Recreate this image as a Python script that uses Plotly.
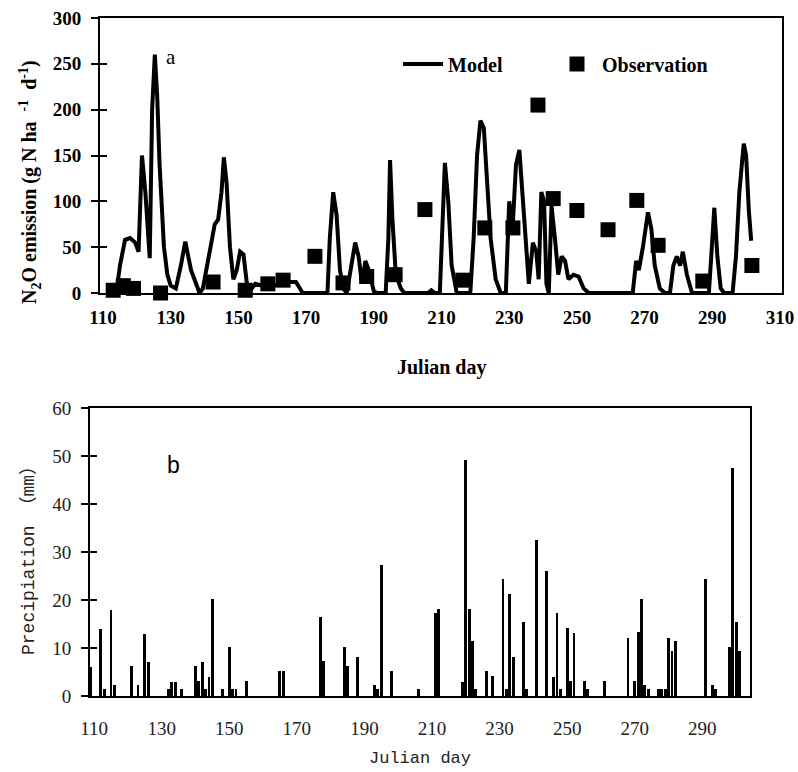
import plotly.graph_objects as go

# ---------------- data ----------------
# Panel a: modelled N2O emission (Julian day, g N ha-1 d-1)
model_day = [113, 114, 115, 116.5, 118, 119.5, 120.5, 121.5, 122.5, 123.8, 124.5, 125.3, 126, 126.7,
             128, 129, 130, 131.5, 133, 134.3, 136, 138.5, 139.5, 140.5, 142, 143, 144, 145, 145.7,
             146.5, 147.5, 148.5, 149.5, 150.5, 151.5, 152.5, 153.5, 155, 157, 160, 163, 165, 167,
             169, 176.3, 177, 178, 179, 180, 181, 182, 183.5, 184.5, 185.5, 186.5, 187.5, 188.5,
             190, 191, 193.5, 194.3, 194.8, 195.5, 196.5, 198, 199, 206, 207, 208, 209.5, 210.3,
             211, 212, 213, 214.5, 218.5, 219.5, 220.5, 221.5, 222.5, 223.5, 224.5, 226, 227.5,
             229, 229.5, 230, 231, 232, 233, 234, 235, 235.8, 237, 238, 238.7, 239.5, 240.3, 241,
             241.7, 242.5, 243.5, 244.5, 245.5, 246.5, 247.5, 249, 250.5, 252, 253.5, 266.5, 267.5,
             268.3, 269.5, 271, 272, 273, 274.5, 276, 277.5, 278.5, 279.5, 280.5, 281.3, 282.5,
             284, 289, 289.7, 290.6, 291.5, 292.5, 293.5, 296, 297, 298, 299.3, 300, 300.8, 301.5]
model_val = [0, 3, 30, 58, 60, 55, 45, 150, 110, 38, 200, 260, 215, 140,
             50, 20, 8, 5, 30, 56, 25, 0, 5, 25, 55, 75, 80, 110, 148,
             120, 50, 15, 25, 45, 42, 10, 3, 10, 8, 8, 10, 12, 12,
             0, 0, 60, 110, 85, 25, 5, 0, 30, 55, 40, 10, 35, 25,
             2, 0, 0, 60, 145, 80, 20, 5, 0, 0, 3, 0, 0, 80,
             142, 100, 30, 0, 0, 60, 150, 188, 180, 120, 60, 15, 0,
             0, 60, 100, 70, 140, 156, 100, 40, 10, 55, 45, 15, 110, 100, 10,
             0, 95, 60, 20, 40, 35, 15, 20, 18, 5, 0, 0, 35,
             25, 50, 88, 70, 30, 5, 0, 0, 30, 40, 30, 45, 20,
             0, 0, 40, 93, 40, 5, 0, 0, 40, 110, 163, 150, 90, 57]

# Panel a: observed N2O emission
obs_day = [113, 116, 119, 127, 142.5, 152, 158.7, 163.2, 172.6, 180.9, 187.9, 196.3, 205.1,
           216.3, 222.8, 231.1, 238.5, 243, 250, 259.2, 267.7, 274, 287.2, 301.7]
obs_val = [3, 8, 5, 0, 12, 3, 10, 14, 40, 11, 18, 20, 91,
           14, 71, 71, 205, 103, 90, 69, 101, 52, 13, 30]

# Panel b: daily precipitation (mm)
rain_day = [109, 112, 113, 115, 116, 121, 123, 125, 126, 132, 133, 134, 136, 140, 141, 142, 143,
            144, 145, 148, 150, 151, 152, 155, 165, 166,
            177, 178, 184, 185, 188, 193, 194, 195, 198, 206, 211, 212, 219, 220, 221, 222, 223,
            226, 228, 231, 232, 233, 234, 237, 238, 241, 244,
            246, 247, 248, 250, 251, 252, 255, 256, 261, 268, 270, 271, 272, 273, 274, 277, 278,
            279, 280, 281, 282, 291, 293, 294, 298, 299, 300, 301]
rain_mm = [6, 14, 1.4, 18, 2.3, 6.3, 2.3, 13, 7, 1.4, 3, 3, 1.4, 6.3, 3.2, 7, 1.4,
           4, 20.3, 1.4, 10.3, 1.4, 1.4, 3.2, 5.3, 5.3,
           16.4, 7.2, 10.3, 6.3, 8.1, 2.3, 1.4, 27.3, 5.3, 1.4, 17.3, 18.2, 3, 49.2, 18.2, 11.4, 1.4,
           5.3, 4.2, 24.3, 1.4, 21.2, 8.1, 15.4, 1.4, 32.4, 26,
           4, 17.2, 1.4, 14.2, 3.2, 13.1, 3.2, 1.4, 3.2, 12.1, 3.2, 13.3, 20.3, 2.3, 1.4, 1.4, 1.4,
           1.4, 12.1, 9.3, 11.4, 24.3, 2.3, 1.4, 10.3, 47.6, 15.4, 9.3]

a_xticks = [110, 130, 150, 170, 190, 210, 230, 250, 270, 290, 310]
a_yticks = [0, 50, 100, 150, 200, 250, 300]
b_xticks = [110, 130, 150, 170, 190, 210, 230, 250, 270, 290]
b_yticks = [0, 10, 20, 30, 40, 50, 60]

# ---------------- layout helpers ----------------
W, H = 798, 772
def X(px):
    return px / W
def Y(py):
    return 1 - py / H

SERIF = "Liberation Serif"
MONO = "Liberation Mono, Noto Sans CJK SC"
LEG_FONT = dict(family=SERIF, size=20, color="black", weight="bold")

fig = go.Figure()

fig.add_trace(go.Scatter(x=model_day, y=model_val, mode="lines", name="Model",
                         line=dict(color="black", width=4), xaxis="x", yaxis="y",
                         cliponaxis=False, legend="legend"))
fig.add_trace(go.Scatter(x=obs_day, y=obs_val, mode="markers", name="Observation",
                         marker=dict(symbol="square", size=15, color="black"),
                         xaxis="x", yaxis="y", cliponaxis=False, legend="legend2"))
# dummy traces to show inner halves of the crossing ticks
fig.add_trace(go.Scatter(x=[None], y=[None], xaxis="x", yaxis="y3", showlegend=False,
                         hoverinfo="skip"))
fig.add_trace(go.Bar(x=rain_day, y=rain_mm, width=0.85, marker=dict(color="black", line=dict(width=0)),
                     xaxis="x2", yaxis="y2", showlegend=False))
fig.add_trace(go.Scatter(x=[None], y=[None], xaxis="x2", yaxis="y4", showlegend=False,
                         hoverinfo="skip"))

top_tick_font = dict(family=SERIF, size=19, color="black", weight="bold")
bot_tick_font = dict(family=SERIF, size=19, color="#222222")

fig.update_layout(
    width=W, height=H,
    margin=dict(l=0, r=0, t=0, b=0),
    paper_bgcolor="white", plot_bgcolor="white",
    showlegend=True,
    legend=dict(orientation="h", x=X(398), y=Y(64), xanchor="left", yanchor="middle",
                font=LEG_FONT, bgcolor="rgba(0,0,0,0)", itemwidth=40),
    legend2=dict(orientation="h", x=X(552), y=Y(64), xanchor="left", yanchor="middle",
                 font=LEG_FONT, bgcolor="rgba(0,0,0,0)", itemwidth=40),
    xaxis=dict(domain=[X(100), X(782)], range=[109.1, 310.6], anchor="y",
               tickvals=a_xticks, ticks="", showgrid=False, zeroline=False,
               showline=True, linecolor="black", linewidth=2, mirror=True,
               tickfont=top_tick_font, ticklabelstandoff=6, automargin=False),
    yaxis=dict(domain=[Y(293), Y(18)], range=[0, 300], anchor="x",
               tickvals=a_yticks, ticks="outside", ticklen=7, tickwidth=2, tickcolor="black",
               showgrid=False, zeroline=False, showline=True, linecolor="black", linewidth=2,
               mirror=True, tickfont=top_tick_font, ticklabelstandoff=6, automargin=False),
    yaxis3=dict(overlaying="y", anchor="x", range=[0, 300], tickvals=a_yticks,
                ticks="inside", ticklen=7, tickwidth=2, tickcolor="black",
                showticklabels=False, showgrid=False, zeroline=False, showline=False),
    xaxis2=dict(domain=[X(90), X(750)], range=[108.8, 304.1], anchor="y2",
                tickvals=b_xticks, ticks="", showgrid=False, zeroline=False,
                showline=True, linecolor="black", linewidth=2, mirror=True,
                tickfont=bot_tick_font, ticklabelstandoff=14, automargin=False),
    yaxis2=dict(domain=[Y(696), Y(408)], range=[0, 60], anchor="x2",
                tickvals=b_yticks, ticks="outside", ticklen=7, tickwidth=2, tickcolor="black",
                showgrid=False, zeroline=False, showline=True, linecolor="black", linewidth=2,
                mirror=True, tickfont=bot_tick_font, ticklabelstandoff=6, automargin=False),
    yaxis4=dict(overlaying="y2", anchor="x2", range=[0, 60], tickvals=b_yticks,
                ticks="inside", ticklen=7, tickwidth=2, tickcolor="black",
                showticklabels=False, showgrid=False, zeroline=False, showline=False),
    bargap=0,
)

ann = [
    dict(text="N<sub>2</sub>O emission (g N ha\u00a0\u00a0<sup>-1</sup>\u00a0\u00a0d<sup>-1</sup>)",
         x=X(30), y=Y(182), textangle=-90,
         font=dict(family=SERIF, size=20, color="black", weight="bold")),
    dict(text="Julian day", x=X(441), y=Y(368),
         font=dict(family=SERIF, size=20, color="black", weight="bold")),
    dict(text="a", x=X(171), y=Y(57), font=dict(family=SERIF, size=21, color="black")),
    dict(text="Precipiation （mm）", x=X(28), y=Y(556), textangle=-90,
         font=dict(family=MONO, size=18, color="#222222")),
    dict(text="Julian day", x=X(420), y=Y(758),
         font=dict(family=MONO, size=17, color="#222222")),
    dict(text="b", x=X(173), y=Y(465), font=dict(family="Liberation Sans", size=23, color="black")),
]
for a in ann:
    a.update(xref="paper", yref="paper", showarrow=False, xanchor="center", yanchor="middle")
fig.update_layout(annotations=ann)

fig.write_html("out.html")
